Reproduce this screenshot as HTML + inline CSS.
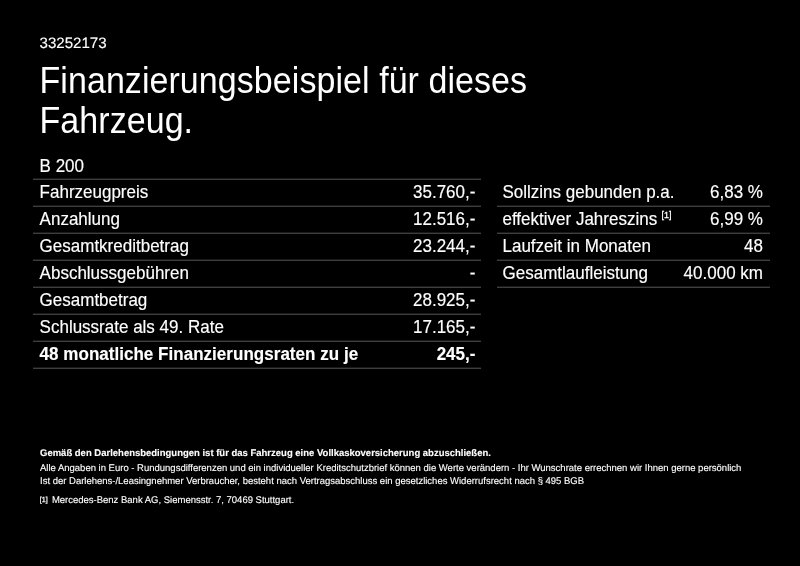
<!DOCTYPE html>
<html lang="de">
<head>
<meta charset="utf-8">
<title>Finanzierungsbeispiel</title>
<style>
html,body{margin:0;padding:0;background:#000;}
body{width:800px;height:566px;position:relative;overflow:hidden;color:#fff;font-family:"Liberation Sans",Arial,Helvetica,sans-serif;}
.t{position:absolute;white-space:nowrap;line-height:1;transform:scaleY(1.1);transform-origin:0 50%;}
.id{left:39.5px;top:36px;font-size:15.1px;-webkit-text-stroke:0.15px #fff;transform:none;text-rendering:geometricPrecision;}
.h1{left:39.5px;font-size:34px;letter-spacing:0.06px;}
.row{position:absolute;height:26px;border-bottom:1px solid #3e3e3e;font-size:17px;}
.row::after{content:"";position:absolute;left:0;right:0;bottom:0;height:1px;background:#191919;}
.row span{-webkit-text-stroke:0.15px #fff;transform:scaleY(1.1);transform-origin:0 45%;position:absolute;top:3px;line-height:18px;white-space:nowrap;}
.row .l{left:6.6px;}
.row .r{right:5.6px;}
.L{left:33px;width:448px;}
.R{left:497px;width:273px;}
.R .l{left:5.5px;}
.R .r{right:7px;}
.b{font-weight:bold;}
.row.b .l{letter-spacing:0.03px;}
sup{font-size:9px;vertical-align:baseline;position:relative;top:-6.5px;margin-left:4.3px;-webkit-text-stroke:0.3px #fff;}
.f{left:40px;font-size:9.7px;-webkit-text-stroke:0.12px #fff;text-rendering:geometricPrecision;transform:scaleX(0.98);transform-origin:0 50%;}
</style>
</head>
<body>
<div class="t id">33252173</div>
<div class="t h1" style="top:63px">Finanzierungsbeispiel für dieses</div>
<div class="t h1" style="top:103px">Fahrzeug.</div>

<div class="row L" style="top:153px"><span class="l" style="top:4px">B 200</span></div>
<div class="row L" style="top:180px"><span class="l">Fahrzeugpreis</span><span class="r">35.760,-</span></div>
<div class="row L" style="top:207px"><span class="l">Anzahlung</span><span class="r">12.516,-</span></div>
<div class="row L" style="top:234px"><span class="l">Gesamtkreditbetrag</span><span class="r">23.244,-</span></div>
<div class="row L" style="top:261px"><span class="l">Abschlussgebühren</span><span class="r">-</span></div>
<div class="row L" style="top:288px"><span class="l">Gesamtbetrag</span><span class="r">28.925,-</span></div>
<div class="row L" style="top:315px"><span class="l">Schlussrate als 49. Rate</span><span class="r">17.165,-</span></div>
<div class="row L b" style="top:342px"><span class="l">48 monatliche Finanzierungsraten zu je</span><span class="r">245,-</span></div>

<div class="row R" style="top:180px"><span class="l">Sollzins gebunden p.a.</span><span class="r">6,83 %</span></div>
<div class="row R" style="top:207px"><span class="l">effektiver Jahreszins<sup>[1]</sup></span><span class="r">6,99 %</span></div>
<div class="row R" style="top:234px"><span class="l">Laufzeit in Monaten</span><span class="r">48</span></div>
<div class="row R" style="top:261px"><span class="l">Gesamtlaufleistung</span><span class="r">40.000 km</span></div>

<div class="t f b" style="top:449px">Gemäß den Darlehensbedingungen ist für das Fahrzeug eine Vollkaskoversicherung abzuschließen.</div>
<div class="t f" style="top:464px">Alle Angaben in Euro - Rundungsdifferenzen und ein individueller Kreditschutzbrief können die Werte verändern - Ihr Wunschrate errechnen wir Ihnen gerne persönlich</div>
<div class="t f" style="top:477px">Ist der Darlehens-/Leasingnehmer Verbraucher, besteht nach Vertragsabschluss ein gesetzliches Widerrufsrecht nach § 495 BGB</div>
<div class="t f" style="top:496px"><span style="font-size:7.3px;position:relative;top:-1.5px;left:-0.3px;-webkit-text-stroke:0.25px #fff">[1]</span><span style="margin-left:4px">Mercedes-Benz Bank AG, Siemensstr. 7, 70469 Stuttgart.</span></div>
</body>
</html>
